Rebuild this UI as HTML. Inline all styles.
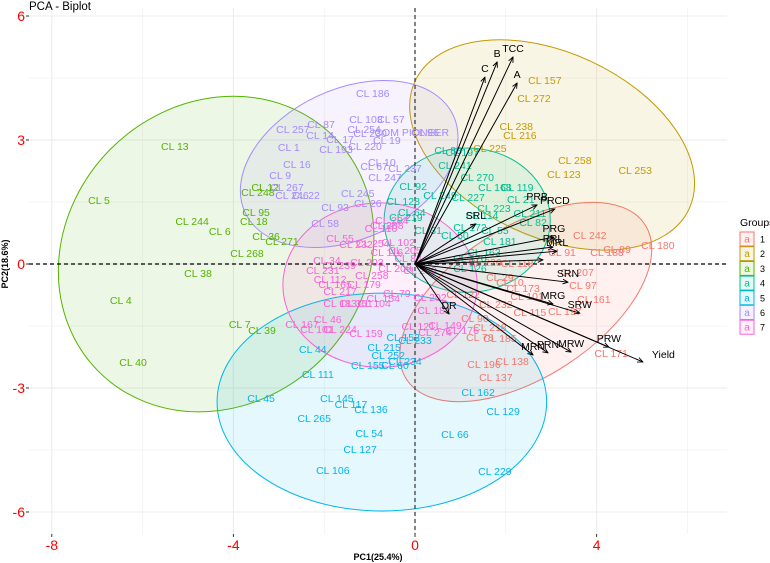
<!DOCTYPE html>
<html><head><meta charset="utf-8"><style>
html,body{margin:0;padding:0;background:#fff;}
svg{display:block;font-family:"Liberation Sans",Arial,sans-serif;}
</style></head><body>
<svg id="chart" width="770" height="563" viewBox="0 0 770 563">
<g id="grid"></g><g id="ell"></g><g id="zero"></g><g id="pts"></g><g id="arr"></g><g id="axes"></g><g id="legend"></g>
<rect x="0" y="0" width="200" height="7" fill="#fff"/>
<text x="29" y="10" font-size="11.5" fill="#000">PCA - Biplot</text>
<text x="378" y="560" font-size="9" font-weight="bold" text-anchor="middle">PC1(25.4%)</text>
<text transform="translate(8,264) rotate(-90)" font-size="9" font-weight="bold" text-anchor="middle">PC2(18.6%)</text>
</svg>
<script>
const groupNames=["1","2","3","4","5","6","7"];
const groupColors=["#F8766D","#C49A00","#53B400","#00C094","#00B6EB","#A58AFF","#FB61D7"];
const xTicks=[-8,-4,0,4];
const yTicks=[-6,-3,0,3,6];
// ellipse centres and semi-axes (data units), rotation in degrees
const ellCx=[2.44,3.02,-4.38,1.15,-0.73,-1.45,-0.77];
const ellCy=[-0.92,2.88,0.24,1.06,-3.34,2.42,-0.51];
const ellA=[3.13,3.33,3.66,1.83,3.63,2.53,2.14];
const ellB=[1.65,2.03,3.28,1.59,2.40,1.65,1.81];
const ellAng=[-33,25,-45,0,0,-25,0];
const g1Labels=["CL 242","CL 180","CL 188","CL 89","CL 91","CL 207","CL 97","CL 161","CL 197","CL 115","CL 101","CL 173","CL 10","CL 29","CL 226","CL 118","CL 232","CL 90","CL 218","CL 78","CL 185","CL 196","CL 138","CL 137","CL 171","CL 122"];
const g1X=[3.85,5.35,4.23,4.45,3.24,3.57,3.70,3.94,3.30,2.53,2.47,2.38,2.09,1.87,1.54,2.25,1.78,1.32,1.65,1.43,1.87,1.52,2.14,1.78,4.32,1.06];
const g1Y=[0.70,0.46,0.29,0.36,0.29,-0.19,-0.51,-0.85,-1.14,-1.16,-0.77,-0.58,-0.44,-0.31,0.05,0.02,-0.97,-1.31,-1.52,-1.77,-1.79,-2.42,-2.35,-2.73,-2.15,-0.73];
const g2Labels=["CL 157","CL 272","CL 238","CL 216","CL 225","CL 258","CL 123","CL 253"];
const g2X=[2.86,2.62,2.23,2.31,1.65,3.52,3.28,4.85];
const g2Y=[4.45,4.02,3.34,3.12,2.81,2.52,2.18,2.27];
const g3Labels=["CL 13","CL 5","CL 244","CL 6","CL 268","CL 38","CL 4","CL 7","CL 39","CL 40","CL 12","CL 248","CL 95","CL 18","CL 36","CL 271"];
const g3X=[-5.29,-6.96,-4.91,-4.30,-3.70,-4.78,-6.48,-3.86,-3.37,-6.21,-3.30,-3.46,-3.50,-3.55,-3.28,-2.93];
const g3Y=[2.86,1.55,1.04,0.80,0.27,-0.22,-0.87,-1.45,-1.60,-2.37,1.86,1.74,1.26,1.04,0.68,0.56];
const g4Labels=["CL 88","CL 197","CL 241","CL 270","CL 168","CL 119","CL 21","CL 211","CL 82","CL 223","CL 114","CL 92","CL 128","CL 64","CL 219","CL 31","CL 181","CL 163","CL 55","CL 170","CL 126","CL 227","CL 249","CL 172","CL 50"];
const g4X=[0.73,1.04,0.88,1.37,1.76,2.25,2.33,2.53,2.60,1.74,1.48,-0.04,-0.26,-0.07,-0.20,0.29,1.87,1.52,1.76,1.21,1.21,1.17,0.55,1.21,0.88];
const g4Y=[2.76,2.71,2.40,2.11,1.86,1.86,1.57,1.23,1.02,1.36,1.19,1.89,1.52,1.26,1.14,0.82,0.56,0.29,0.82,0.15,-0.10,1.62,1.67,0.90,0.70];
const g5Labels=["CL 44","CL 215","CL 252","CL 152","CL 233","CL 234","CL 155","CL 60","CL 111","CL 45","CL 145","CL 117","CL 136","CL 265","CL 54","CL 127","CL 106","CL 66","CL 229","CL 162","CL 129"];
const g5X=[-2.25,-0.68,-0.59,-0.26,0.00,-0.22,-1.04,-0.44,-2.14,-3.39,-1.72,-1.41,-0.97,-2.22,-1.01,-1.21,-1.81,0.88,1.76,1.39,1.94];
const g5Y=[-2.06,-2.01,-2.20,-1.77,-1.84,-2.35,-2.44,-2.44,-2.66,-3.24,-3.24,-3.39,-3.51,-3.73,-4.09,-4.48,-4.99,-4.11,-5.01,-3.10,-3.56];
const g6Labels=["CL 186","CL 257","CL 87","CL 14","CL 17","CL 193","CL 1","CL 16","CL 9","CL 267","CL 246","CL 22","CL 103","CL 57","CL 254","CL 230","COM PIONEER","CL 96","CL 19","CL 220","CL 10","CL 67","CL 237","CL 247","CL 245","CL 26","CL 93","CL 58"];
const g6X=[-0.93,-2.69,-2.07,-2.09,-1.65,-1.74,-2.78,-2.60,-2.97,-2.82,-2.71,-2.40,-1.08,-0.53,-1.12,-0.99,-0.07,0.22,-0.62,-1.10,-0.73,-0.90,-0.22,-0.66,-1.26,-1.04,-1.76,-1.98];
const g6Y=[4.14,3.27,3.39,3.12,3.03,2.78,2.83,2.42,2.15,1.86,1.67,1.67,3.51,3.51,3.27,3.17,3.19,3.19,3.00,2.86,2.47,2.37,2.32,2.11,1.72,1.48,1.38,0.99];
const g7Labels=["CL 34","CL 231","CL 239","CL 112","CL 165","CL 179","CL 217","CL 203","CL 258","CL 116","CL 102","CL 205","CL 55","CL 232","CL 254","CL 204","CL 208","CL 110","CL 79","CL 154","CL 104","CL 361","CL 183","CL 202","CL 182","CL 46","CL 167","CL 101","CL 224","CL 159","CL 121","CL 149","CL 274","CL 176","CL 209","CL 84","CL 200"];
const g7X=[-1.94,-2.03,-1.67,-1.87,-1.76,-1.12,-1.65,-1.06,-0.95,-0.62,-0.37,-0.22,-1.65,-1.30,-0.93,-0.51,-0.62,-0.75,-0.40,-0.70,-0.90,-1.30,-1.65,0.33,0.42,-1.92,-2.49,-2.16,-1.65,-1.08,0.07,0.66,0.44,1.04,-0.44,-0.15,0.11];
const g7Y=[0.10,-0.15,-0.02,-0.36,-0.48,-0.48,-0.65,0.05,-0.27,0.29,0.53,0.34,0.63,0.48,0.51,1.06,0.94,0.87,-0.70,-0.82,-0.94,-0.94,-0.94,-0.80,-1.11,-1.33,-1.45,-1.57,-1.57,-1.67,-1.50,-1.48,-1.65,-1.60,-0.10,0.15,-0.15];
const varNames=["C","B","TCC","A","PRB","PRCD","SRL","PRG","PRL","MRL","","SRN","MRG","SRW","PRW","Yield","MRW","PRN","MRN","DR"];
const varX=[1.54,1.81,2.16,2.25,2.69,3.08,1.34,3.06,3.04,3.13,2.82,3.37,3.04,3.63,4.27,5.02,3.44,2.93,2.60,0.75];
const varY=[4.52,4.89,5.01,4.38,1.43,1.33,0.97,0.65,0.41,0.31,0.10,-0.44,-0.97,-1.19,-2.01,-2.37,-2.13,-2.15,-2.20,-1.21];

const NS="http://www.w3.org/2000/svg";
const L=29,R=727,T=8,B=534;
const X0=415,KX=45.4,Y0=264,KY=41.33;
const sx=v=>X0+v*KX, sy=v=>Y0-v*KY;
function mk(tag,attrs,parent){const e=document.createElementNS(NS,tag);for(const k in attrs)e.setAttribute(k,attrs[k]);parent.appendChild(e);return e;}
const grid=document.getElementById('grid');
const bg=mk('rect',{x:L,y:T,width:R-L,height:B-T,fill:'#fff'},grid);


for(let v=-8;v<=6;v+=2){const major=xTicks.includes(v);const ln=mk('line',{x1:sx(v),x2:sx(v),y1:T,y2:B,stroke:'#ebebeb','stroke-width':major?1:0.5},grid);

}
for(let v=-6;v<=6;v+=1.5){const major=yTicks.includes(v);const ln=mk('line',{x1:L,x2:R,y1:sy(v),y2:sy(v),stroke:'#ebebeb','stroke-width':major?1:0.5},grid);

}
const ell=document.getElementById('ell');
for(let i=0;i<7;i++){const e=mk('ellipse',{cx:sx(ellCx[i]),cy:sy(ellCy[i]),rx:ellA[i]*KX,ry:ellB[i]*KX,fill:groupColors[i],'fill-opacity':0.1,stroke:groupColors[i],'stroke-width':1,transform:`rotate(${ellAng[i]} ${sx(ellCx[i])} ${sy(ellCy[i])})`},ell);

}
const zero=document.getElementById('zero');
const zx=mk('line',{x1:sx(0),x2:sx(0),y1:T,y2:B,stroke:'#333','stroke-dasharray':'4,3','stroke-width':1.2},zero);


const zy=mk('line',{x1:L,x2:R,y1:sy(0),y2:sy(0),stroke:'#000','stroke-dasharray':'4,3','stroke-width':1.2},zero);


const pts=document.getElementById('pts');
const groupsL=[g1Labels,g2Labels,g3Labels,g4Labels,g5Labels,g6Labels,g7Labels];
const groupsX=[g1X,g2X,g3X,g4X,g5X,g6X,g7X];
const groupsY=[g1Y,g2Y,g3Y,g4Y,g5Y,g6Y,g7Y];
for(let g=0;g<7;g++){for(let j=0;j<groupsL[g].length;j++){const t=mk('text',{x:sx(groupsX[g][j]),y:sy(groupsY[g][j])+4,'font-size':10.5,'text-anchor':'middle',fill:groupColors[g]},pts);t.textContent=groupsL[g][j];

}}
const arr=document.getElementById('arr');
const defs=mk('defs',{},arr);
const mkr=mk('marker',{id:'ah',viewBox:'0 0 10 10',refX:9,refY:5,markerWidth:6,markerHeight:6,orient:'auto'},defs);
mk('path',{d:'M0,1 L9,5 L0,9',fill:'none',stroke:'#000','stroke-width':1.5},mkr);
for(let i=0;i<varNames.length;i++){const ln=mk('line',{x1:sx(0),y1:sy(0),x2:sx(varX[i]),y2:sy(varY[i]),stroke:'#000','stroke-width':1,'marker-end':'url(#ah)'},arr);


if(varNames[i]){const isY=varNames[i]==='Yield';const t=mk('text',{x:sx(varX[i])+(isY?9:0),y:sy(varY[i])-(isY?4:5),'font-size':10.5,'text-anchor':isY?'start':'middle',fill:'#000'},arr);t.textContent=varNames[i];

}}
const axes=document.getElementById('axes');
for(const v of xTicks){const tk=mk('line',{x1:sx(v),x2:sx(v),y1:B,y2:B+3,stroke:'#333'},axes);


const t=mk('text',{x:sx(v),y:550,'font-size':14,'text-anchor':'middle',fill:'#ff0000'},axes);t.textContent=v;

}
for(const v of yTicks){const tk=mk('line',{x1:L-3,x2:L,y1:sy(v),y2:sy(v),stroke:'#333'},axes);


const t=mk('text',{x:L-4,y:sy(v)+5,'font-size':14,'text-anchor':'end',fill:'#ff0000'},axes);t.textContent=v;

}
const lg=document.getElementById('legend');
const lt=mk('text',{x:740,y:226,'font-size':10.5,fill:'#000'},lg);lt.textContent='Groups';


for(let i=0;i<7;i++){const cy=239+i*14.7;
const r=mk('rect',{x:740,y:cy-7,width:14,height:14,fill:groupColors[i],'fill-opacity':0.1,stroke:groupColors[i],'stroke-width':1},lg);


const a=mk('text',{x:747,y:cy+3.5,'font-size':10,'text-anchor':'middle',fill:groupColors[i]},lg);a.textContent='a';


const n=mk('text',{x:760,y:cy+3.5,'font-size':9,fill:'#000'},lg);n.textContent=groupNames[i];

}
</script>
</body></html>
